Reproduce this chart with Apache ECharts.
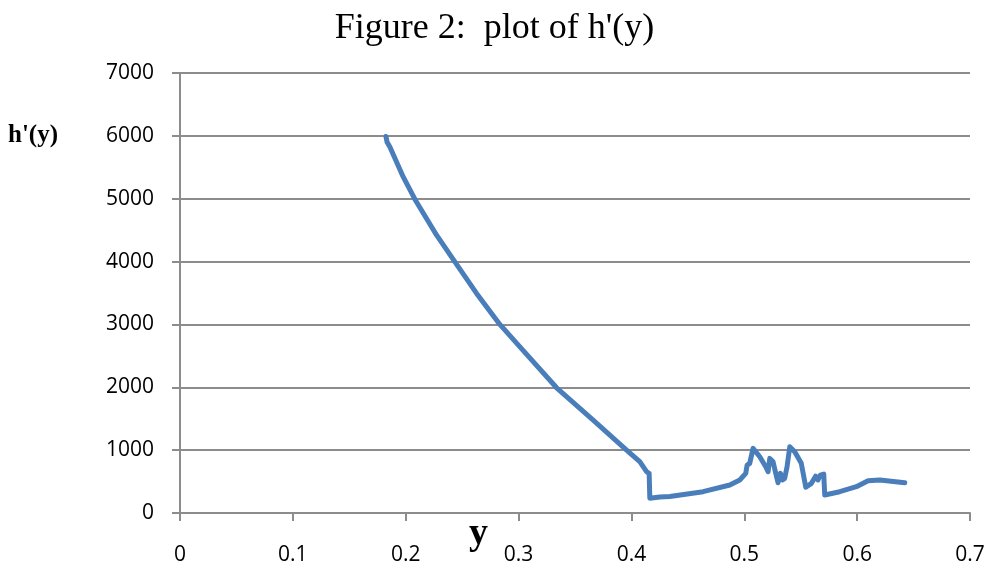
<!DOCTYPE html>
<html>
<head>
<meta charset="utf-8">
<script src="https://cdn.jsdelivr.net/npm/echarts@6/dist/echarts.min.js"></script>
<style>
html,body{margin:0;padding:0;background:#fff;}
#chart{width:989px;height:569px;}
</style>
</head>
<body>
<div id="chart"></div>
<script>
// y values (x-axis) and h'(y) values
const yVals = [0.1825, 0.1835, 0.186, 0.1978, 0.2081, 0.2274, 0.2436, 0.2628, 0.2834, 0.3012, 0.3337, 0.3661, 0.3957, 0.4074, 0.4134, 0.4157, 0.4163, 0.4252, 0.434, 0.4635, 0.4872, 0.496, 0.5013, 0.5025, 0.5048, 0.5078, 0.5137, 0.519, 0.5211, 0.5226, 0.5255, 0.5279, 0.5299, 0.532, 0.5338, 0.5358, 0.5379, 0.5403, 0.5447, 0.5505, 0.5545, 0.5595, 0.5633, 0.5653, 0.5674, 0.5704, 0.5713, 0.5846, 0.5993, 0.6097, 0.620, 0.6422];
const hVals = [5990, 5900, 5824, 5347, 4992, 4420, 3995, 3493, 3000, 2644, 1992, 1479, 1002, 816, 657, 631, 234, 255, 262, 339, 445, 525, 631, 763, 790, 1028, 895, 736, 657, 869, 816, 631, 482, 631, 525, 551, 736, 1054, 975, 790, 409, 472, 588, 525, 604, 620, 286, 339, 418, 514, 525, 482];
const titleText = "Figure 2:  plot of h'(y)";
const xName = "y";
const yName = "h'(y)";

const chart = echarts.init(document.getElementById('chart'));
const gridColor = '#8c8c8c';
chart.setOption({
  animation: false,
  backgroundColor: '#fff',
  title: {
    text: titleText,
    left: 'center',
    top: 6,
    textStyle: {fontFamily: 'Liberation Serif', fontSize: 36, fontWeight: 'normal', color: '#000'}
  },
  grid: {left: 180, right: 19, top: 73, bottom: 56},
  xAxis: {
    type: 'value', min: 0, max: 0.7, interval: 0.1,
    axisLine: {lineStyle: {color: gridColor, width: 2}},
    axisTick: {show: true, length: 8, inside: false, lineStyle: {color: gridColor, width: 2}},
    splitLine: {show: false},
    axisLabel: {margin: 32, fontFamily: 'Open Sans', fontSize: 21, color: '#000', formatter: v => String(Math.round(v * 10) / 10)}
  },
  yAxis: {
    type: 'value', min: 0, max: 7000, interval: 1000,
    axisLine: {show: true, lineStyle: {color: gridColor, width: 2}},
    axisTick: {show: true, length: 8, lineStyle: {color: gridColor, width: 2}},
    splitLine: {show: true, lineStyle: {color: gridColor, width: 2}},
    axisLabel: {margin: 26, fontFamily: 'Open Sans', fontSize: 21, color: '#000', formatter: v => String(v)}
  },
  graphic: [
    {type: 'text', left: 8, top: 123, style: {text: yName, font: 'bold 25px "Liberation Serif"', fill: '#000'}},
    {type: 'text', left: 469, top: 515, style: {text: xName, font: 'bold 38px "Liberation Serif"', fill: '#000'}}
  ],
  series: [{
    type: 'line',
    data: yVals.map((x, i) => [x, hVals[i]]),
    showSymbol: false,
    smooth: false,
    lineStyle: {color: '#4a7ebb', width: 5, join: 'round', cap: 'round'},
    itemStyle: {color: '#4a7ebb'}
  }]
});
</script>
</body>
</html>
